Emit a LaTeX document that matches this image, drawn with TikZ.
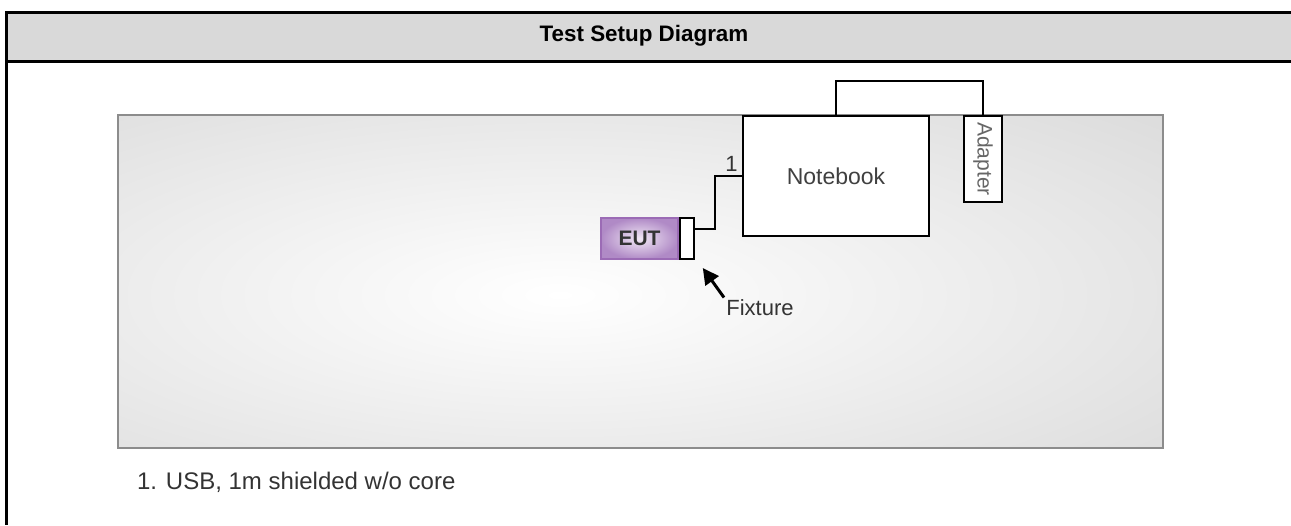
\documentclass[tikz,border=0pt]{standalone}
\usepackage{fontspec}
\setmainfont{Liberation Sans}
\usetikzlibrary{arrows.meta}
\definecolor{headgray}{HTML}{D9D9D9}
\definecolor{panelgray}{HTML}{D0D0D0}
\definecolor{paneledge}{HTML}{8C8C8C}
\definecolor{eutdark}{HTML}{B08AC6}
\definecolor{eutlight}{HTML}{F1E8F5}
\definecolor{eutedge}{HTML}{9B6BB5}
\tikzset{
box/.style={draw=black, fill=white, line width=1pt, inner sep=0pt},
cable/.style={draw=black, line width=1pt},
txt/.style={font=\fontsize{11}{13}\selectfont, text=black!80},
}

\begin{document}
\begin{tikzpicture}[x=0.5pt, y=-0.5pt]
\useasboundingbox (0,0) rectangle (1291,525);

% header
\fill[headgray] (8,12) rectangle (1310,61);
\draw[line width=1.5pt] (1310,12) -- (6.5,12) -- (6.5,525);
\draw[line width=1.5pt] (6.5,61) -- (1310,61);
\node[font=\bfseries\fontsize{11.2}{13}\selectfont] (title) at (644,36) {Test Setup Diagram};

% table
\begin{scope}
\clip (118,115) rectangle (1163,448);
\shade[inner color=white, outer color=panelgray] (560,295) ellipse [x radius=550pt, y radius=180pt];
\end{scope}
\draw[paneledge, line width=1pt] (118,115) rectangle (1163,448);

\node[box, txt, text=black!75, font=\fontsize{11.5}{13}\selectfont, minimum width=93pt, minimum height=60pt] (nb) at (836,176) {Notebook};
\node[box, minimum width=19pt, minimum height=43pt] (ad) at (983,159) {};
\node[rotate=-90, font=\fontsize{10.5}{12}\selectfont, text=black!60] (adtext) at (ad) {Adapter};
\node[draw=eutedge, line width=0.8pt, inner color=eutlight, outer color=eutdark, inner sep=0pt,
      minimum width=38.5pt, minimum height=20.5pt, font=\bfseries\fontsize{10.5}{12}\selectfont, text=black!80] (eut) at (639.5,238.5) {EUT};
\node[box, anchor=west, minimum width=7pt, minimum height=20.5pt] (fix) at (eut.east) {};

\draw[cable] (nb.north) -- ++(0,-34) -| (ad.north);
\draw[cable] ([yshift=5pt]fix.east) -- ++(20,0) |- (nb.west);
\node[txt, above left, inner sep=2pt] (usbnum) at (nb.west) {1};

\node[txt, anchor=west, inner sep=1pt] (fxt) at (724,308) {Fixture};
\coordinate (tip) at ([shift={(4pt,-4pt)}]fix.south east);
\draw[line width=1.5pt, -{Triangle[length=8pt,width=8pt]}] (fxt.north west) -- (tip);

\node[anchor=west, font=\fontsize{12}{14}\selectfont, text=black!80] (note) at (130,482) {1. USB, 1m shielded w/o core};

\end{tikzpicture}
\end{document}
